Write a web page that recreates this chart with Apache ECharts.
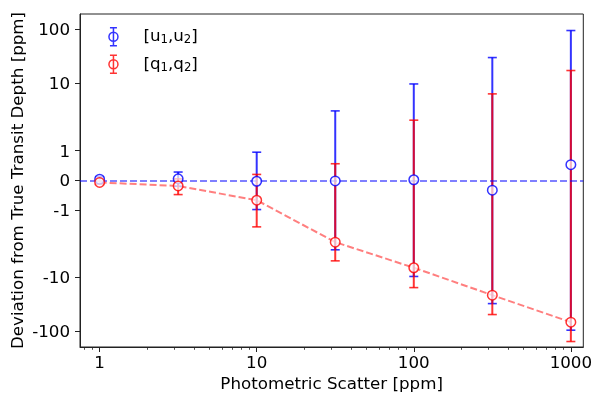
<!DOCTYPE html>
<html>
<head>
<meta charset="utf-8">
<script src="https://cdn.jsdelivr.net/npm/echarts@6/dist/echarts.min.js"></script>
<style>html,body{margin:0;padding:0;background:#fff}#c{width:592px;height:399px}</style>
</head>
<body>
<div id="c"></div>
<script>
// ---- data ----
const xVals = [1, 3.162, 10, 31.62, 100, 316.2, 1000];
const uVal  = [0.04, 0.05, -0.03, -0.02, 0.02, -0.33, 0.53];
const uLow  = [-0.04, -0.2, -0.985, -3.9, -9.7, -30.7, -95.5];
const uHigh = [0.12, 0.28, 0.95, 3.9, 9.8, 30.1, 95.5];
const qVal  = [-0.07, -0.19, -0.67, -3.0, -7.2, -21.4, -67.8];
const qLow  = [-0.12, -0.48, -1.78, -5.69, -15.5, -49, -155];
const qHigh = [-0.02, 0.05, 0.2, 0.56, 2.84, 6.98, 17.3];
const xTickVals = [1, 10, 100, 1000];
const xMinorVals = [0.8, 0.9, 2, 3, 4, 5, 6, 7, 8, 9, 20, 30, 40, 50, 60, 70, 80, 90, 200, 300, 400, 500, 600, 700, 800, 900];
const yTickVals = [-100, -10, -1, 0, 1, 10, 100];
const yTickLabels = ['-100', '-10', '-1', '0', '1', '10', '100'];

// symmetric-log style y scale
function symT(v) {
  const a = Math.abs(v), s = v < 0 ? -1 : 1;
  let r;
  if (a <= 1) r = a;
  else if (a <= 10) r = 1 + 2.271 * Math.log10(a);
  else r = 3.271 + 1.818 * (Math.log10(a) - 1);
  return s * r;
}
const yTickPos = yTickVals.map(symT);

const FONT = 'DejaVu Sans';
const BLUE = 'rgba(0,0,255,0.8)';
const RED = 'rgba(255,0,0,0.8)';

function errRender(color) {
  return function (params, api) {
    const x = api.value(0), lo = api.value(1), hi = api.value(2);
    const a = api.coord([x, lo]), b = api.coord([x, hi]);
    const cw = 4.5;
    return {
      type: 'group',
      children: [
        { type: 'line', shape: { x1: a[0], y1: a[1], x2: b[0], y2: b[1] }, style: { stroke: color, lineWidth: 2 } },
        { type: 'line', shape: { x1: a[0] - cw, y1: a[1], x2: a[0] + cw, y2: a[1] }, style: { stroke: color, lineWidth: 1.6 } },
        { type: 'line', shape: { x1: b[0] - cw, y1: b[1], x2: b[0] + cw, y2: b[1] }, style: { stroke: color, lineWidth: 1.6 } }
      ]
    };
  };
}

const iconPath = 'path://M5,0L5,18M1.5,0L8.5,0M1.5,18L8.5,18M9.5,9A4.5,4.5,0,1,1,0.5,9A4.5,4.5,0,1,1,9.5,9Z';

const chart = echarts.init(document.getElementById('c'), null, { renderer: 'canvas' });
chart.setOption({
  animation: false,
  backgroundColor: '#fff',
  textStyle: { fontFamily: FONT },
  grid: { left: 80, right: 8.7, top: 14, bottom: 52, show: true, borderColor: '#222', borderWidth: 1, backgroundColor: 'transparent', containLabel: false, outerBoundsMode: 'none' },
  legend: {
    orient: 'vertical', left: 103.2, top: 22, itemWidth: 50, itemHeight: 18, itemGap: 8,
    selectedMode: false,
    data: [
      { name: '[u1,u2]', icon: iconPath, itemStyle: { color: 'rgba(255,255,255,0.7)', borderColor: BLUE, borderWidth: 1.5 } },
      { name: '[q1,q2]', icon: iconPath, itemStyle: { color: 'rgba(255,255,255,0.7)', borderColor: RED, borderWidth: 1.5 } }
    ],
    formatter: function (n) {
      const c = n.charAt(1);
      return '{t|[' + c + '}{s|1}{t|,' + c + '}{s|2}{t|]}';
    },
    textStyle: {
      fontFamily: FONT, fontSize: 16.7, color: '#000',
      rich: {
        t: { fontFamily: FONT, fontSize: 16.7, color: '#000' },
        s: { fontFamily: FONT, fontSize: 11.7, color: '#000', padding: [7, 0, 0, 0] }
      }
    }
  },
  xAxis: [
    {
      type: 'log', logBase: 10, min: 0.75, max: 1200,
      name: 'Photometric Scatter [ppm]', nameLocation: 'middle', nameGap: 29, nameMoveOverlap: false,
      nameTextStyle: { fontFamily: FONT, fontSize: 16.7, color: '#000' },
      axisLine: { show: true, onZero: false, lineStyle: { color: '#222', width: 1 } },
      axisTick: { show: true, length: 5, customValues: xTickVals, lineStyle: { color: '#222', width: 1 } },
      axisLabel: { customValues: xTickVals, margin: 8.5, fontFamily: FONT, fontSize: 16.7, color: '#000', formatter: v => String(Math.round(v)) },
      splitLine: { show: false }, minorTick: { show: false }
    },
    {
      type: 'log', logBase: 10, min: 0.75, max: 1200, position: 'bottom',
      axisLine: { show: false, onZero: false },
      axisTick: { show: true, length: 2.8, customValues: xMinorVals, lineStyle: { color: '#222', width: 0.8 } },
      axisLabel: { show: false }, splitLine: { show: false }
    }
  ],
  yAxis: {
    type: 'value', min: -5.62, max: 5.61,
    name: 'Deviation from True Transit Depth [ppm]', nameLocation: 'middle', nameGap: 52.5, nameMoveOverlap: false,
    nameTextStyle: { fontFamily: FONT, fontSize: 16.7, color: '#000' },
    axisLine: { show: true, onZero: false, lineStyle: { color: '#222', width: 1 } },
    axisTick: { show: true, length: 5, customValues: yTickPos, lineStyle: { color: '#222', width: 1 } },
    axisLabel: {
      customValues: yTickPos, margin: 10, fontFamily: FONT, fontSize: 16.7, color: '#000',
      formatter: function (v) {
        let best = 0, d = Infinity;
        yTickPos.forEach((p, i) => { const dd = Math.abs(p - v); if (dd < d) { d = dd; best = i; } });
        return '{a|' + yTickLabels[best] + '}';
      },
      rich: { a: { fontFamily: FONT, fontSize: 16.7, color: '#000', padding: [3, 0, 0, 0] } }
    },
    splitLine: { show: false }
  },
  series: [
    {
      name: 'qline', type: 'line', z: 2, showSymbol: false, symbol: 'none', silent: true,
      data: xVals.map((x, i) => [x, symT(qVal[i])]),
      lineStyle: { color: 'rgba(255,0,0,0.5)', width: 2, type: [7, 3] },
      markLine: {
        silent: true, symbol: ['none', 'none'], label: { show: false },
        lineStyle: { color: 'rgba(0,0,255,0.5)', width: 2, type: [7, 3] },
        emphasis: { disabled: true },
        data: [{ yAxis: 0 }]
      }
    },
    {
      name: 'uerr', type: 'custom', z: 3, silent: true,
      renderItem: errRender(BLUE),
      encode: { x: 0, y: [1, 2] },
      data: xVals.map((x, i) => [x, symT(uLow[i]), symT(uHigh[i])])
    },
    {
      name: 'qerr', type: 'custom', z: 4, silent: true,
      renderItem: errRender(RED),
      encode: { x: 0, y: [1, 2] },
      data: xVals.map((x, i) => [x, symT(qLow[i]), symT(qHigh[i])])
    },
    {
      name: '[u1,u2]', type: 'scatter', z: 5, symbol: 'circle', symbolSize: 9.5,
      itemStyle: { color: 'rgba(255,255,255,0.7)', borderColor: BLUE, borderWidth: 1.5, opacity: 1 },
      data: xVals.map((x, i) => [x, symT(uVal[i])])
    },
    {
      name: '[q1,q2]', type: 'scatter', z: 6, symbol: 'circle', symbolSize: 9.5,
      itemStyle: { color: 'rgba(255,255,255,0.7)', borderColor: RED, borderWidth: 1.5, opacity: 1 },
      data: xVals.map((x, i) => [x, symT(qVal[i])])
    }
  ]
});
</script>
</body>
</html>
